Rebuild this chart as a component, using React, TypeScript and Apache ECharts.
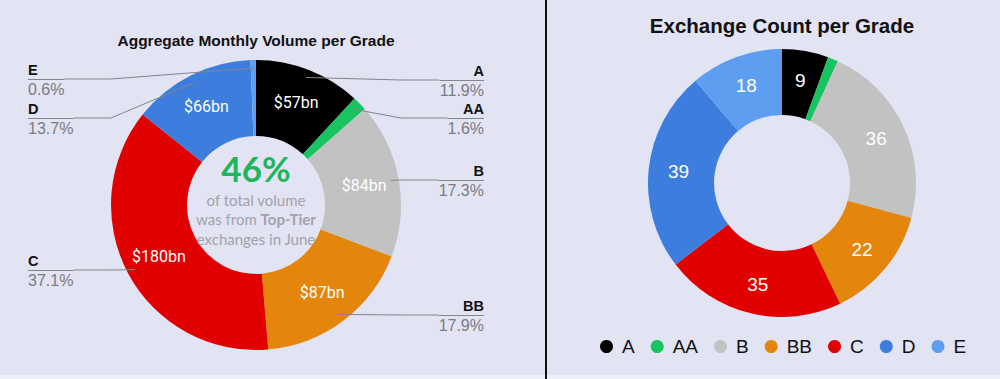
import React, { useEffect, useRef } from "react";
import * as echarts from "echarts";

const CATEGORIES = ["A", "AA", "B", "BB", "C", "D", "E"];
// Left chart: share of monthly volume (%) and volume in $bn
const VOLUME_SHARE = [11.9, 1.6, 17.3, 17.9, 37.1, 13.7, 0.6];
const VOLUME_BN = [57, 8, 84, 87, 180, 66, 3];
// Right chart: number of exchanges per grade
const EXCHANGE_COUNT = [9, 2, 36, 22, 35, 39, 18];

const COLORS = ["#000000", "#17c45f", "#c2c2c2", "#e3860b", "#e00000", "#3c7ddd", "#5e9ef0"];

// layout constants (not data)
const L_CX = 256;
const L_CY = 205;
const L_R0 = 69;
const L_R = 145;
const R_CX = 782;
const R_CY = 183;
const LABEL_Y = [80, 118, 180, 315, 270, 118, 79];

const ARIAL = "'Liberation Sans', Arial, sans-serif";

export default function App() {
  const ref = useRef<HTMLDivElement>(null);
  useEffect(() => {
    const chart = echarts.init(ref.current!, null, { renderer: "svg" });
    const option: any = {
      animation: false,
      backgroundColor: "#e2e3f3",
      legend: {
        data: CATEGORIES,
        left: 595,
        top: 332,
        icon: "circle",
        itemWidth: 13,
        itemHeight: 13,
        itemGap: 16,
        selectedMode: false,
        textStyle: { fontSize: 19, color: "#111", fontFamily: ARIAL, padding: [0, 0, 0, 4] },
      },
      graphic: [
        { type: "rect", shape: { x: 545, y: 0, width: 2, height: 379 }, style: { fill: "#111" } },
        { type: "rect", shape: { x: 0, y: 375, width: 545, height: 4 }, style: { fill: "#eceef8" } },
        { type: "rect", shape: { x: 547, y: 375, width: 453, height: 4 }, style: { fill: "#eceef8" } },
        {
          type: "text",
          x: L_CX,
          y: 40,
          style: {
            text: "Aggregate Monthly Volume per Grade",
            fontSize: 15.5,
            fontWeight: "bold",
            fontFamily: ARIAL,
            fill: "#111",
            align: "center",
            verticalAlign: "middle",
          },
        },
        {
          type: "text",
          x: R_CX,
          y: 25,
          style: {
            text: "Exchange Count per Grade",
            fontSize: 20.5,
            fontWeight: "bold",
            fontFamily: ARIAL,
            fill: "#111",
            align: "center",
            verticalAlign: "middle",
          },
        },
        {
          type: "text",
          x: L_CX,
          y: 168,
          z: 10,
          style: {
            text: "46%",
            fontSize: 35,
            fontWeight: "bold",
            fontFamily: "Lato",
            fill: "#20b55b",
            align: "center",
            verticalAlign: "middle",
          },
        },
        {
          type: "text",
          x: L_CX,
          y: 219,
          z: 10,
          style: {
            text: "{n|of total volume}\n{n|was from }{b|Top-Tier}\n{n|exchanges in June}",
            align: "center",
            verticalAlign: "middle",
            rich: {
              n: { fontSize: 15, fontFamily: "Lato", fill: "#a2a2ab", lineHeight: 19.5 },
              b: { fontSize: 15, fontFamily: "Lato", fontWeight: "bold", fill: "#a2a2ab", lineHeight: 19.5 },
            },
          },
        },
      ],
      series: [
        {
          type: "pie",
          name: "volume",
          left: 0,
          top: 0,
          width: 512,
          height: 379,
          center: [L_CX, L_CY],
          radius: [L_R0, L_R],
          startAngle: 90,
          silent: true,
          avoidLabelOverlap: false,
          data: CATEGORIES.map((n, i) => ({ name: n, value: VOLUME_SHARE[i], itemStyle: { color: COLORS[i] } })),
          label: {
            show: true,
            position: "inside",
            formatter: (p: any) => (VOLUME_SHARE[p.dataIndex] >= 5 ? "$" + VOLUME_BN[p.dataIndex] + "bn" : ""),
            color: "#fff",
            fontSize: 16,
            fontFamily: "Roboto",
          },
          labelLine: { show: false },
          emphasis: { disabled: true },
        },
        {
          type: "pie",
          name: "volumeLabels",
          left: 0,
          top: 0,
          width: 512,
          height: 379,
          center: [L_CX, L_CY],
          radius: [L_R0, L_R],
          startAngle: 90,
          silent: true,
          z: 5,
          avoidLabelOverlap: false,
          data: CATEGORIES.map((n, i) => ({ name: n, value: VOLUME_SHARE[i], itemStyle: { color: "rgba(0,0,0,0)" } })),
          label: {
            show: true,
            position: "outside",
            alignTo: "edge",
            edgeDistance: 28,
            formatter: (p: any) => `{n|${p.name}}\n{hr|}\n{p|${p.value}%}`,
            rich: {
              n: { fontSize: 14.5, fontWeight: "bold", color: "#111", fontFamily: ARIAL, lineHeight: 20 },
              hr: { borderColor: "#85858c", width: "100%", borderWidth: 1, height: 0 },
              p: { fontSize: 16, color: "#7b7b84", fontFamily: ARIAL, lineHeight: 19 },
            },
          },
          labelLine: { show: true, length: 10, length2: 10, lineStyle: { color: "#85858c", width: 1 } },
          labelLayout: (params: any) => {
            const i = params.dataIndex;
            const y = LABEL_Y[i];
            const pts = params.labelLinePoints;
            if (!pts) return { y };
            const x0 = pts[0][0];
            const y0 = pts[0][1];
            const dx = x0 - L_CX;
            const dy = y0 - L_CY;
            const d = Math.hypot(dx, dy) || 1;
            const s = (L_R - 8) / d;
            const sx = L_CX + dx * s;
            const sy = L_CY + dy * s;
            const left = x0 < L_CX;
            const bendX = left ? L_CX - L_R : L_CX + L_R;
            const rect = params.labelRect;
            const endX = left ? rect.x + rect.width : rect.x;
            return { y, labelLinePoints: [[sx, sy], [bendX, y], [endX, y]] };
          },
          emphasis: { disabled: true },
        },
        {
          type: "pie",
          name: "count",
          center: [R_CX, R_CY],
          radius: [68, 134],
          startAngle: 90,
          silent: true,
          avoidLabelOverlap: false,
          data: CATEGORIES.map((n, i) => ({ name: n, value: EXCHANGE_COUNT[i], itemStyle: { color: COLORS[i] } })),
          label: {
            show: true,
            position: "inside",
            formatter: (p: any) => (EXCHANGE_COUNT[p.dataIndex] >= 5 ? String(p.value) : ""),
            color: "#fff",
            fontSize: 19,
            fontFamily: ARIAL,
          },
          labelLine: { show: false },
          emphasis: { disabled: true },
        },
      ],
    };
    chart.setOption(option);
    return () => chart.dispose();
  }, []);
  return <div ref={ref} style={{ position: "absolute", left: 0, top: 0, width: 1000, height: 379 }} />;
}
